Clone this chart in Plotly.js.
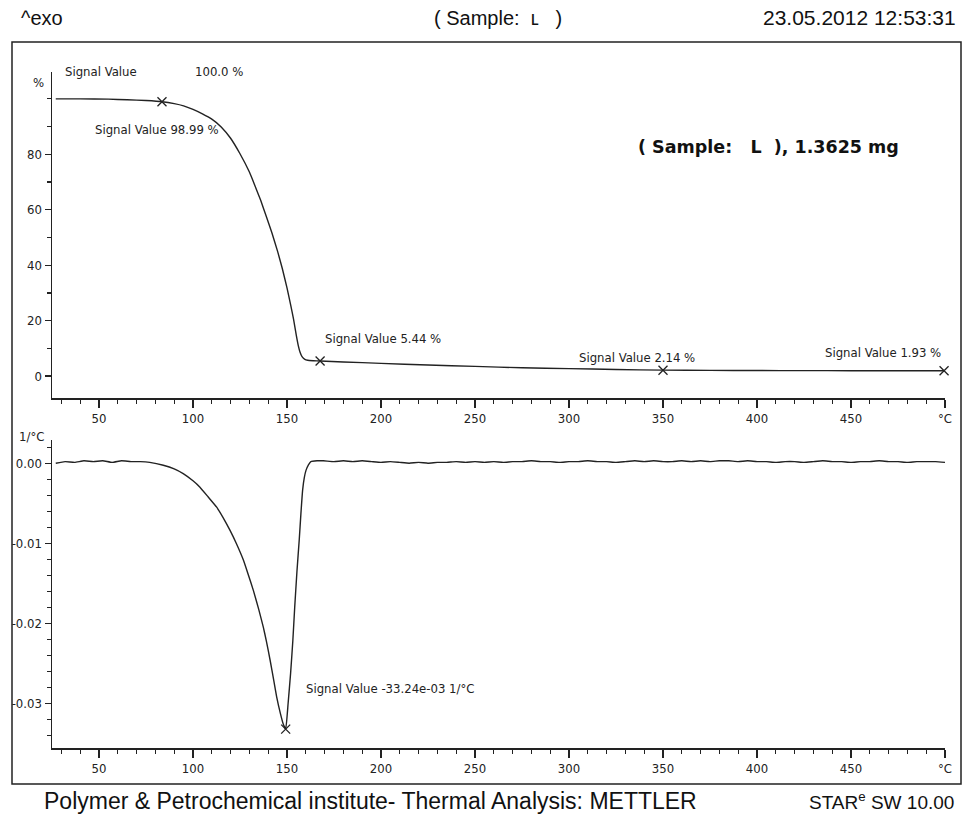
<!DOCTYPE html>
<html>
<head>
<meta charset="utf-8">
<script src="https://cdn.plot.ly/plotly-3.0.1.min.js"></script>
<style>html,body{margin:0;padding:0;background:#fff;}#chart{width:963px;height:821px;}</style>
</head>
<body>
<div id="chart"></div>
<script>
// ---- Data ----
// TGA: mass signal (%) vs temperature (°C)
var tgaTemp = [27, 40, 55, 65, 75, 83.5, 90, 95, 100, 105, 110, 115, 120, 125, 130, 133, 136, 139, 142, 145, 147.5, 150, 152, 153.5, 155, 156, 157, 158, 159.5, 161, 164, 167.6, 180, 200, 225, 250, 275, 300, 325, 350, 375, 400, 425, 450, 475, 499.5];
var tgaMass = [100.0, 100.0, 99.9, 99.7, 99.4, 98.99, 98.3, 97.5, 96.2, 94.6, 92.7, 89.9, 85.8, 80.2, 73.6, 68.6, 63.4, 57.6, 51.6, 45.0, 38.8, 31.8, 25.5, 20.5, 14.5, 11.0, 8.5, 7.0, 6.0, 5.7, 5.55, 5.44, 5.1, 4.6, 4.0, 3.5, 3.0, 2.7, 2.4, 2.14, 2.05, 2.0, 1.97, 1.95, 1.94, 1.93];

// DTG: derivative signal (1/°C) vs temperature (°C)
var dtgTemp = [27, 32, 37, 42, 47, 52, 57, 62, 67, 72, 77, 84.2, 90, 94.8, 100, 103.7, 108, 112.6, 116, 119.7, 123, 126.8, 129.5, 132.1, 135, 137.4, 139, 141, 143, 144.5, 146.5, 148, 149.3, 150.6, 151.9, 153.1, 154.1, 155.3, 156.5, 157.4, 158.3, 159.2, 160.1, 161.4, 162.7, 166, 169.3,
  175, 180, 185, 190, 195, 200, 205, 210, 215, 220, 225, 230, 235, 240, 245, 250, 255, 260, 265, 270, 275, 280, 285, 290, 295, 300, 305, 310, 315, 320, 325, 330, 335, 340, 345, 350, 355, 360, 365, 370, 375, 380, 385, 390, 395, 400, 405, 410, 415, 420, 425, 430, 435, 440, 445, 450, 455, 460, 465, 470, 475, 480, 485, 490, 495, 500];
var dtgValue = [0.0000, 0.0002, 0.0001, 0.0003, 0.0002, 0.0003, 0.0001, 0.0003, 0.0002, 0.0002, 0.0001, -0.00025, -0.0007, -0.0013, -0.0022, -0.0030, -0.0042, -0.0055, -0.0068, -0.0084, -0.0100, -0.0121, -0.0140, -0.0159, -0.0183, -0.0205, -0.0222, -0.0246, -0.0272, -0.0292, -0.0313, -0.0326, -0.03324, -0.0300, -0.0263, -0.0222, -0.0180, -0.0135, -0.0096, -0.0063, -0.0034, -0.0018, -0.0009, -0.0002, 0.0002, 0.0003, 0.0003,
  0.0002, 0.0003, 0.0002, 0.0003, 0.0002, 0.0001, 0.0002, 0.0001, 0.0000, 0.0001, 0.0000, 0.0001, 0.0001, 0.0002, 0.0001, 0.0002, 0.0001, 0.0002, 0.0001, 0.0002, 0.0002, 0.0003, 0.0002, 0.0002, 0.0001, 0.0002, 0.0002, 0.0003, 0.0002, 0.0002, 0.0001, 0.0002, 0.0003, 0.0002, 0.0003, 0.0002, 0.0002, 0.0003, 0.0002, 0.0003, 0.0002, 0.0003, 0.0003, 0.0002, 0.0003, 0.0002, 0.0002, 0.0001, 0.0002, 0.0002, 0.0001, 0.0002, 0.0003, 0.0002, 0.0002, 0.0001, 0.0002, 0.0002, 0.0003, 0.0002, 0.0002, 0.0001, 0.0002, 0.0002, 0.0002, 0.0001, 0.0001, 0.0001];

// Marked points (signal values)
var tgaMarkTemp = [83.5, 167.6, 350, 499.5];
var tgaMarkValue = [98.99, 5.44, 2.14, 1.93];
var dtgMarkTemp = [149.3];
var dtgMarkValue = [-0.03324];

// Tick labels
var xTickVals = [50, 100, 150, 200, 250, 300, 350, 400, 450, 500];
var xTickText = ['50', '100', '150', '200', '250', '300', '350', '400', '450', '°C'];
var xMinorVals = [30, 40, 60, 70, 80, 90, 110, 120, 130, 140, 160, 170, 180, 190, 210, 220, 230, 240, 260, 270, 280, 290, 310, 320, 330, 340, 360, 370, 380, 390, 410, 420, 430, 440, 460, 470, 480, 490];
var tgaTickVals = [0, 20, 40, 60, 80];
var tgaTickText = ['0', '20', '40', '60', '80'];
var tgaMinorVals = [10, 30, 50, 70, 90, 100];
var dtgTickVals = [0, -0.01, -0.02, -0.03];
var dtgTickText = ['0.00', '-0.01', '-0.02', '-0.03'];
var dtgMinorVals = [0.002, -0.002, -0.004, -0.006, -0.008, -0.012, -0.014, -0.016, -0.018, -0.022, -0.024, -0.026, -0.028, -0.032, -0.034];

// ---- Layout helpers (pixel -> paper) ----
var W = 963, H = 821, L = 52, R = 18;
function px(x) { return (x - L) / (W - L - R); }
function py(y) { return 1 - y / H; }

var tickFont = {family: 'DejaVu Sans Condensed, DejaVu Sans, sans-serif', size: 13, color: '#222'};
var narrow = 'Liberation Sans Narrow, Arial Narrow, Liberation Sans, sans-serif';
var XR = [25, 500], TGAR = [-7.9, 109.7], DTGR = [-0.0356, 0.0029];
var topDom = [py(398), py(72)], botDom = [py(748), py(440)];

var traces = [
  {x: tgaTemp, y: tgaMass, xaxis: 'x', yaxis: 'y', mode: 'lines', line: {color: '#222', width: 1.4, shape: 'spline', smoothing: 0.4}, hoverinfo: 'skip'},
  {x: tgaMarkTemp, y: tgaMarkValue, xaxis: 'x', yaxis: 'y', mode: 'markers', cliponaxis: false, marker: {symbol: 'x-thin', size: 9, line: {color: '#222', width: 1.3}}, hoverinfo: 'skip'},
  {x: dtgTemp, y: dtgValue, xaxis: 'x2', yaxis: 'y2', mode: 'lines', line: {color: '#222', width: 1.4, shape: 'spline', smoothing: 0.4}, hoverinfo: 'skip'},
  {x: dtgMarkTemp, y: dtgMarkValue, xaxis: 'x2', yaxis: 'y2', mode: 'markers', cliponaxis: false, marker: {symbol: 'x-thin', size: 9, line: {color: '#222', width: 1.3}}, hoverinfo: 'skip'},
  // empty traces so minor-tick overlay axes are drawn
  {x: [], y: [], xaxis: 'x3', yaxis: 'y3', mode: 'lines', hoverinfo: 'skip'},
  {x: [], y: [], xaxis: 'x4', yaxis: 'y4', mode: 'lines', hoverinfo: 'skip'}
];

function majorX(anchor) {
  return {
    anchor: anchor, domain: [0, 1], range: XR,
    showgrid: false, zeroline: false, showline: true, linecolor: '#222', linewidth: 1.5,
    ticks: 'outside', ticklen: 8, tickwidth: 1.3, tickcolor: '#222',
    tickmode: 'array', tickvals: xTickVals, ticktext: xTickText, tickfont: tickFont
  };
}
function minorX(anchor, over) {
  return {
    anchor: anchor, overlaying: over, domain: [0, 1], range: XR, side: 'bottom',
    showgrid: false, zeroline: false, showline: false,
    ticks: 'outside', ticklen: 5, tickwidth: 1.2, tickcolor: '#222',
    tickmode: 'array', tickvals: xMinorVals, showticklabels: false
  };
}
function majorY(anchor, dom, rng, vals, text) {
  return {
    anchor: anchor, domain: dom, range: rng,
    showgrid: false, zeroline: false, showline: true, linecolor: '#222', linewidth: 1.5,
    ticks: 'outside', ticklen: 6, tickwidth: 1.3, tickcolor: '#222',
    tickmode: 'array', tickvals: vals, ticktext: text, tickfont: tickFont
  };
}
function minorY(anchor, over, dom, rng, vals) {
  return {
    anchor: anchor, overlaying: over, domain: dom, range: rng, side: 'left',
    showgrid: false, zeroline: false, showline: false,
    ticks: 'outside', ticklen: 4, tickwidth: 1.2, tickcolor: '#222',
    tickmode: 'array', tickvals: vals, showticklabels: false
  };
}

var layout = {
  width: W, height: H,
  margin: {l: L, r: R, t: 0, b: 0},
  paper_bgcolor: '#fff', plot_bgcolor: 'rgba(0,0,0,0)',
  showlegend: false,
  xaxis: majorX('y'),
  xaxis2: majorX('y2'),
  xaxis3: minorX('y3', 'x'),
  xaxis4: minorX('y4', 'x2'),
  yaxis: majorY('x', topDom, TGAR, tgaTickVals, tgaTickText),
  yaxis2: majorY('x2', botDom, DTGR, dtgTickVals, dtgTickText),
  yaxis3: minorY('x3', 'y', topDom, TGAR, tgaMinorVals),
  yaxis4: minorY('x4', 'y2', botDom, DTGR, dtgMinorVals),
  shapes: [
    {type: 'rect', xref: 'paper', yref: 'paper', x0: px(12), x1: px(961), y0: py(784), y1: py(42), line: {color: '#222', width: 1.5}, fillcolor: 'rgba(0,0,0,0)', layer: 'below'}
  ],
  annotations: [
    // header
    {xref: 'paper', yref: 'paper', x: px(19), y: py(18), xanchor: 'left', yanchor: 'middle', text: '^exo', showarrow: false, font: {family: narrow, size: 20, color: '#111'}},
    {xref: 'paper', yref: 'paper', x: px(498), y: py(18), xanchor: 'center', yanchor: 'middle', text: '( Sample:  ʟ   )', showarrow: false, font: {family: narrow, size: 20, color: '#111'}},
    {xref: 'paper', yref: 'paper', x: px(958), y: py(18), xanchor: 'right', yanchor: 'middle', text: '23.05.2012 12:53:31', showarrow: false, font: {family: narrow, size: 21, color: '#111'}},
    // footer
    {xref: 'paper', yref: 'paper', x: px(42), y: py(801), xanchor: 'left', yanchor: 'middle', text: 'Polymer &amp; Petrochemical institute- Thermal Analysis: METTLER', showarrow: false, font: {family: narrow, size: 23, color: '#111'}},
    {xref: 'paper', yref: 'paper', x: px(956), y: py(801), xanchor: 'right', yanchor: 'middle', text: 'STAR<sup>e</sup> SW 10.00', showarrow: false, font: {family: narrow, size: 19, color: '#111'}},
    // unit labels
    {xref: 'paper', yref: 'paper', x: px(46), y: py(82), xanchor: 'right', yanchor: 'middle', text: '%', showarrow: false, font: tickFont},
    {xref: 'paper', yref: 'paper', x: px(46), y: py(436), xanchor: 'right', yanchor: 'middle', text: '1/°C', showarrow: false, font: tickFont},
    // sample info
    {xref: 'paper', yref: 'paper', x: px(636), y: py(147), xanchor: 'left', yanchor: 'middle', text: '<b>( Sample:   L  ), 1.3625 mg</b>', showarrow: false, font: {family: 'DejaVu Sans, sans-serif', size: 17.5, color: '#111'}},
    // signal value labels
    {xref: 'paper', yref: 'paper', x: px(63), y: py(72), xanchor: 'left', yanchor: 'middle', text: 'Signal Value', showarrow: false, font: tickFont},
    {xref: 'paper', yref: 'paper', x: px(193), y: py(72), xanchor: 'left', yanchor: 'middle', text: '100.0 %', showarrow: false, font: tickFont},
    {xref: 'paper', yref: 'paper', x: px(93), y: py(129), xanchor: 'left', yanchor: 'middle', text: 'Signal Value 98.99 %', showarrow: false, font: tickFont},
    {xref: 'paper', yref: 'paper', x: px(323), y: py(338), xanchor: 'left', yanchor: 'middle', text: 'Signal Value 5.44 %', showarrow: false, font: tickFont},
    {xref: 'paper', yref: 'paper', x: px(577), y: py(358), xanchor: 'left', yanchor: 'middle', text: 'Signal Value 2.14 %', showarrow: false, font: tickFont},
    {xref: 'paper', yref: 'paper', x: px(823), y: py(352), xanchor: 'left', yanchor: 'middle', text: 'Signal Value 1.93 %', showarrow: false, font: tickFont},
    {xref: 'paper', yref: 'paper', x: px(304), y: py(688), xanchor: 'left', yanchor: 'middle', text: 'Signal Value -33.24e-03 1/°C', showarrow: false, font: tickFont}
  ]
};

Plotly.newPlot('chart', traces, layout, {displayModeBar: false, staticPlot: true});
</script>
</body>
</html>
